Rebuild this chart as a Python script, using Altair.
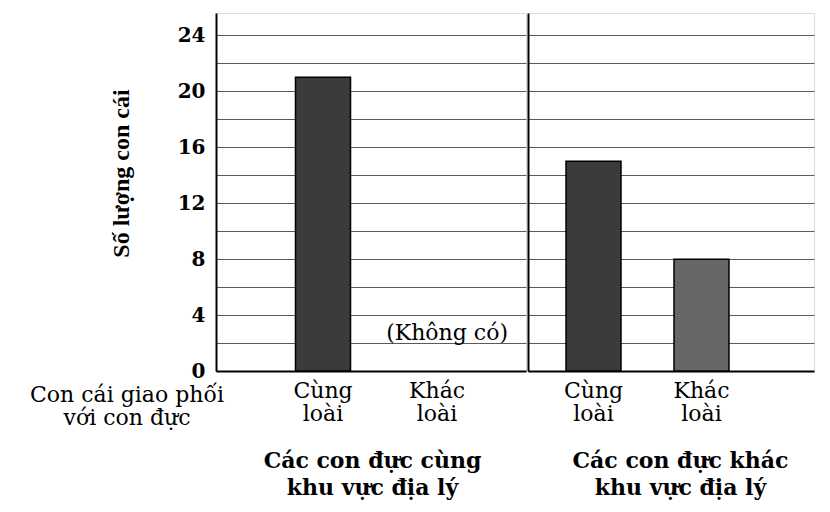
import altair as alt
import pandas as pd

# values
mate_types = ["Cùng loài", "Khác loài"]
groups = ["Các con đực cùng\nkhu vực địa lý", "Các con đực khác\nkhu vực địa lý"]
counts_same_area = [21, 0]
counts_other_area = [15, 8]
notes_same_area = ["", "(Không có)"]
row_label = "Con cái giao phối\nvới con đực"
y_title = "Số lượng con cái"
bar_colors = ["#3b3b3b", "#676767"]

SERIF = "DejaVu Serif"
H = 358
Y_MAX = 25.6

same_df = pd.DataFrame({"mate": mate_types, "count": counts_same_area, "note": notes_same_area})
other_df = pd.DataFrame({"mate": mate_types, "count": counts_other_area})
label_df = pd.DataFrame({"label": [row_label]})

grid_values = list(range(0, 25, 2))
y_scale = alt.Scale(domain=[0, Y_MAX], nice=False, zero=True)
color = alt.Color(
    "mate:N",
    scale=alt.Scale(domain=mate_types, range=bar_colors),
    legend=None,
)

grid_axis = dict(
    values=grid_values,
    ticks=False,
    grid=True,
    gridColor="#5a5a5a",
    gridWidth=1,
    domainColor="black",
    domainWidth=2,
)

left_y = alt.Y(
    "count:Q",
    scale=y_scale,
    axis=alt.Axis(
        title=y_title,
        titleFont="Liberation Serif",
        titleFontSize=24,
        titleFontWeight="bold",
        titleX=-95,
        titleY=160,
        titleAlign="center",
        titleBaseline="middle",
        titleAngle=-90,
        labelExpr="datum.value % 4 == 0 ? datum.label : ''",
        labelFont=SERIF,
        labelFontSize=20,
        labelFontWeight="bold",
        labelColor="black",
        labelPadding=11,
        **grid_axis,
    ),
)


def x_enc(title_lines, pad_inner, pad_outer, align, title_x):
    return alt.X(
        "mate:N",
        sort=mate_types,
        scale=alt.Scale(paddingInner=pad_inner, paddingOuter=pad_outer, align=align),
        axis=alt.Axis(
            title=title_lines.split("\n"),
            titleX=title_x,
            titleAlign="center",
            titleFont=SERIF,
            titleFontSize=22,
            titleFontWeight="bold",
            titleLineHeight=27,
            titlePadding=26,
            labelAngle=0,
            labelExpr="split(datum.label, ' ')",
            labelFont=SERIF,
            labelFontSize=22,
            labelLineHeight=23,
            labelPadding=9,
            labelColor="black",
            ticks=False,
            domainColor="black",
            domainWidth=2,
        ),
    )


left_x = x_enc(groups[0], 0.5175, 0.618, 0.564, 156)

left_bars = (
    alt.Chart(same_df)
    .mark_bar(stroke="black", strokeWidth=1.5)
    .encode(x=left_x, y=left_y, color=color)
    .transform_filter("datum.count > 0")
)

left_note = (
    alt.Chart(same_df)
    .mark_text(font=SERIF, fontSize=22, color="black", dx=10, dy=-38, baseline="middle")
    .encode(x=left_x, y=left_y, text="note:N")
)

left_label = (
    alt.Chart(label_df)
    .mark_text(font=SERIF, fontSize=22, color="black", align="center", baseline="top",
               lineBreak="\n", lineHeight=23)
    .encode(x=alt.value(-89), y=alt.value(H + 14), text="label:N")
)

left = alt.layer(left_bars, left_note, left_label).properties(width=310, height=H)

right = (
    alt.Chart(other_df)
    .mark_bar(stroke="black", strokeWidth=1.5)
    .encode(
        x=x_enc(groups[1], 0.491, 0.5696, 0.309, 152),
        y=alt.Y("count:Q", scale=y_scale, axis=alt.Axis(title="", labels=False, **grid_axis)),
        color=color,
    )
    .properties(width=286, height=H)
)

chart = (
    alt.hconcat(left, right, spacing=0)
    .properties(padding={"left": 21, "top": 4, "right": 5, "bottom": 5})
    .configure_view(strokeWidth=0)
    .configure(background="white")
)

chart.save("out.html", embed_options={"renderer": "svg", "actions": False})
